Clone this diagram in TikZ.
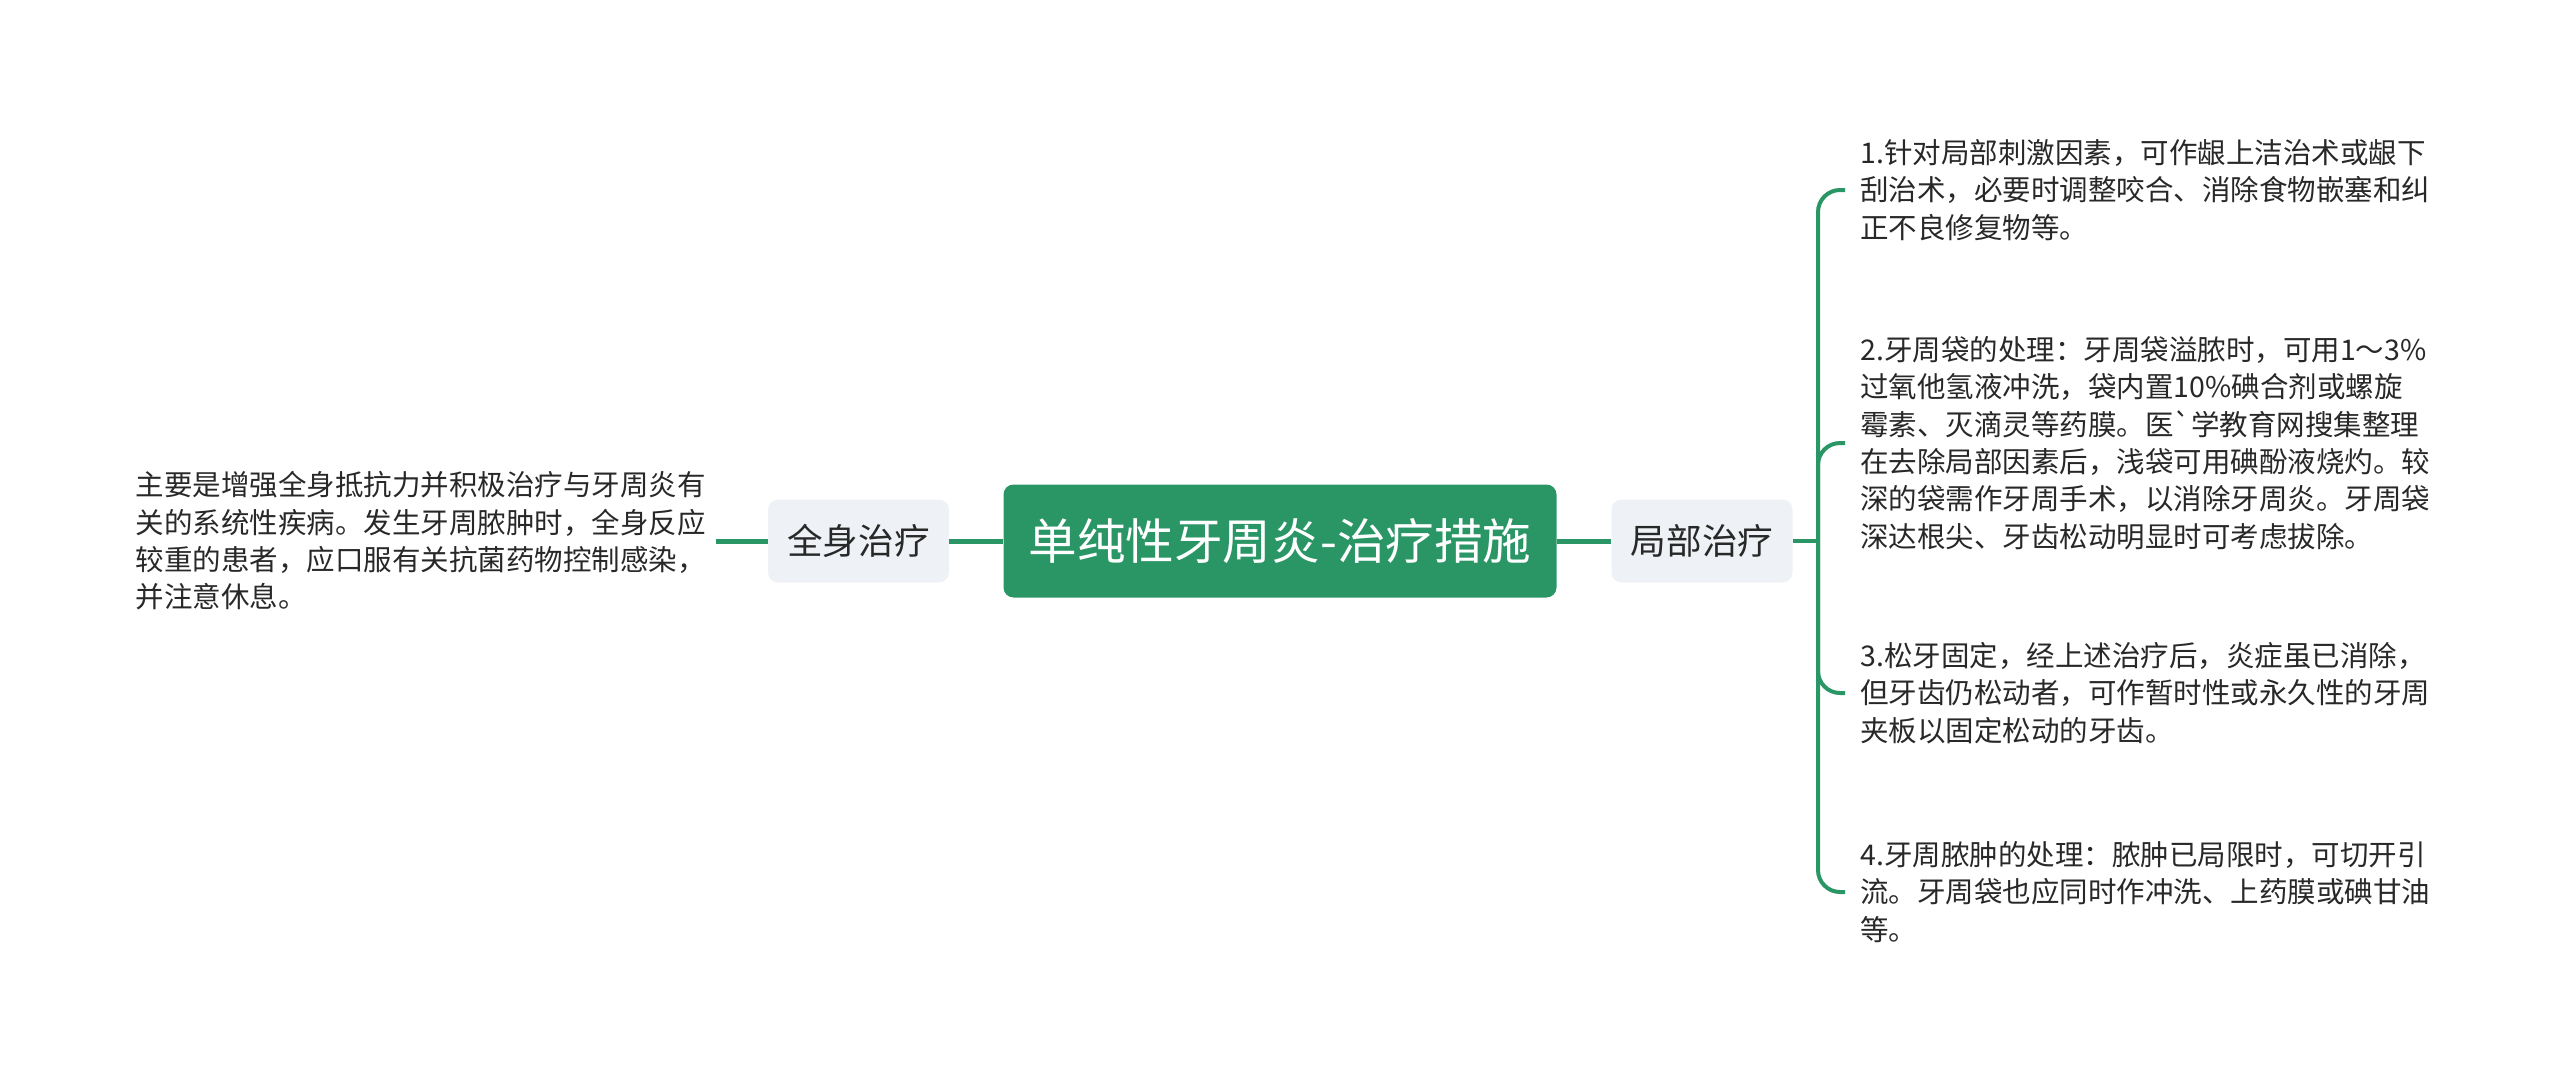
\documentclass[tikz,border=0pt]{standalone}
\usepackage{fontspec}
\setmainfont{Noto Sans CJK SC}
\definecolor{mapgreen}{RGB}{42,150,101}
\definecolor{boxgray}{RGB}{238,241,245}
\definecolor{textdark}{RGB}{40,40,40}
\begin{document}
\begin{tikzpicture}[x=0.5pt,y=-0.5pt,
	root node/.style={rectangle,rounded corners=5pt,fill=mapgreen,text=white,inner sep=0pt,minimum width=276.5pt,minimum height=56.5pt,font=\fontsize{24.3}{28}\selectfont},
	branch node/.style={rectangle,rounded corners=5pt,fill=boxgray,text=textdark,inner sep=0pt,minimum width=90.5pt,minimum height=41.5pt,font=\fontsize{17.8}{21}\selectfont},
	leaf node/.style={align=left,text=textdark,inner ysep=0pt,inner xsep=7.5pt,font=\fontsize{14.25}{18.65}\selectfont},
	link/.style={draw=mapgreen,line width=2.5pt},
	twig/.style={draw=mapgreen,line width=2pt,rounded corners=11pt}]
	\useasboundingbox (0,0) rectangle (2560,1083);
	\draw (1280,541) node(root) [root node] {单纯性牙周炎-治疗措施}
	      (858.5,541) node(whole) [branch node] {全身治疗}
	      (1702,541) node(local) [branch node] {局部治疗};
	\draw (716,541) node(wtext) [leaf node,anchor=east,inner xsep=5pt] {主要是增强全身抵抗力并积极治疗与牙周炎有\\关的系统性疾病。发生牙周脓肿时，全身反应\\较重的患者，应口服有关抗菌药物控制感染，\\并注意休息。};
	\draw (1845,190) node(l1) [leaf node,anchor=west] {1.针对局部刺激因素，可作龈上洁治术或龈下\\刮治术，必要时调整咬合、消除食物嵌塞和纠\\正不良修复物等。}
	      (1845,443) node(l2) [leaf node,anchor=west] {2.牙周袋的处理：牙周袋溢脓时，可用1～3\%\\过氧他氢液冲洗，袋内置10\%碘合剂或螺旋\\霉素、灭滴灵等药膜。医{\addfontfeatures{Ligatures=TeXOff}`}学教育网搜集整理\\在去除局部因素后，浅袋可用碘酚液烧灼。较\\深的袋需作牙周手术，以消除牙周炎。牙周袋\\深达根尖、牙齿松动明显时可考虑拔除。}
	      (1845,693) node(l3) [leaf node,anchor=west] {3.松牙固定，经上述治疗后，炎症虽已消除，\\但牙齿仍松动者，可作暂时性或永久性的牙周\\夹板以固定松动的牙齿。}
	      (1845,892) node(l4) [leaf node,anchor=west] {4.牙周脓肿的处理：脓肿已局限时，可切开引\\流。牙周袋也应同时作冲洗、上药膜或碘甘油\\等。};
	\coordinate (fork) at (1818,541);
	\draw[link] (root) to (whole);
	\draw[link] (whole) to (wtext);
	\draw[link] (root) to (local);
	\draw[twig] (local) to (fork);
	\draw[twig] (fork) |- (l1.west);
	\draw[twig] (fork) |- (l2.west);
	\draw[twig] (fork) |- (l3.west);
	\draw[twig] (fork) |- (l4.west);
\end{tikzpicture}
\end{document}
